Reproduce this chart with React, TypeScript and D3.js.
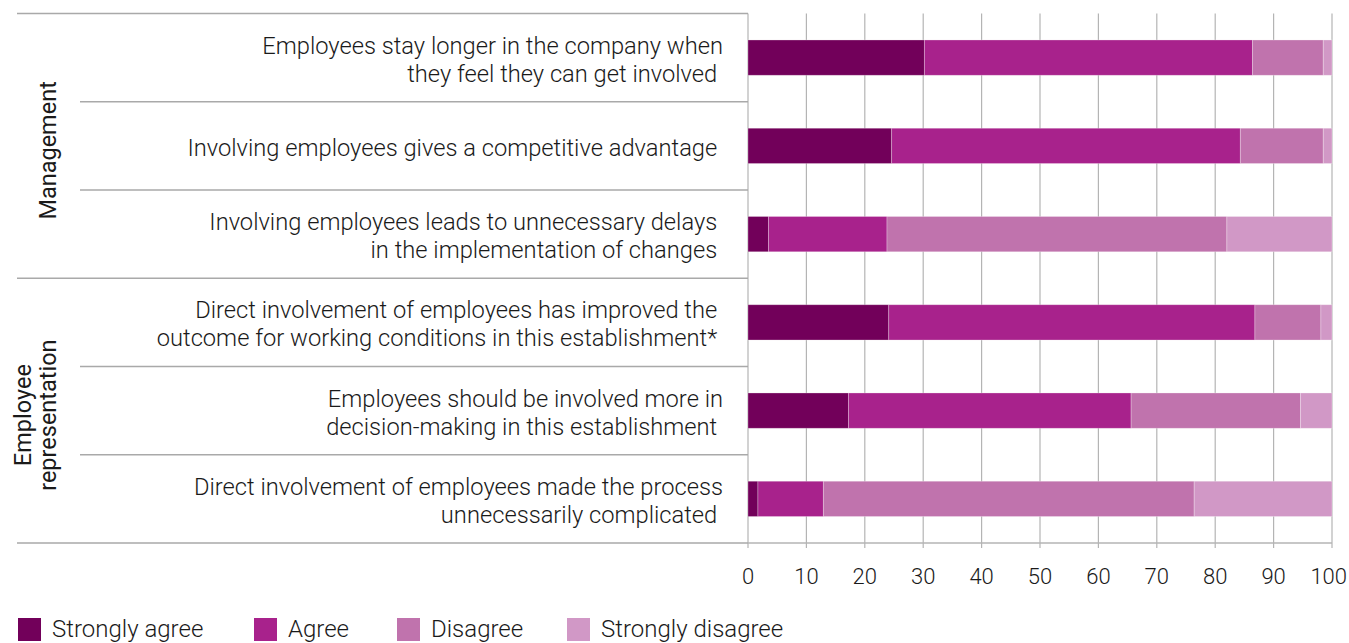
import React from "react";
import * as d3 from "d3";

const categories: string[][] = [
  ["Employees stay longer in the company when", "they feel they can get involved\u00A0"],
  ["Involving employees gives a competitive advantage\u00A0"],
  ["Involving employees leads to unnecessary delays\u00A0", "in the implementation of changes\u00A0"],
  ["Direct involvement of employees has improved the\u00A0", "outcome for working conditions in this establishment*\u00A0"],
  ["Employees should be involved more in", "decision-making in this establishment\u00A0"],
  ["Direct involvement of employees made the process", "unnecessarily complicated\u00A0"],
];
const groupNames: string[][] = [["Management"], ["Employee", "representation"]];
const groupSizes: number[] = [3, 3];

const seriesNames = ["Strongly agree", "Agree", "Disagree", "Strongly disagree"];
const stronglyAgree = [30.2, 24.6, 3.5, 24.1, 17.2, 1.7];
const agree = [56.2, 59.7, 20.3, 62.7, 48.4, 11.2];
const disagree = [12.1, 14.2, 58.2, 11.3, 29.0, 63.5];
const stronglyDisagree = [1.5, 1.5, 18.0, 1.9, 5.4, 23.6];
const colors = ["#72005a", "#a8228c", "#c073ad", "#d198c6"];
const xTicks = [0, 10, 20, 30, 40, 50, 60, 70, 80, 90, 100];

const FONT = "Roboto, 'Liberation Sans', sans-serif";

export default function App() {
  const W = 1349, H = 643;
  const x0 = 748, x1 = 1332, yTop = 13.5, yBot = 543;
  const x = d3.scaleLinear().domain([0, 100]).range([x0, x1]);
  const ids = categories.map((_, i) => String(i));
  const y = d3.scaleBand().domain(ids).range([yTop, yBot]).paddingInner(0.6).paddingOuter(0.3);
  const step = y.step();
  const rows = categories.map((_, i) => ({
    id: String(i),
    sa: stronglyAgree[i], a: agree[i], d: disagree[i], sd: stronglyDisagree[i],
  }));
  const keys = ["sa", "a", "d", "sd"];
  const stacked = d3.stack<any>().keys(keys)(rows);

  const rowTop = (i: number) => yTop + i * step;
  const grid = "#b4b4b4";
  const lineC = "#a9a9a9";

  let acc = 0;
  const groupBounds = groupSizes.map((s) => {
    const g = { start: acc, end: acc + s };
    acc += s;
    return g;
  });

  const legendX = [18, 254, 397, 567];
  const tickFont = 22;

  return (
    <svg width={W} height={H} style={{ position: "absolute", left: 0, top: 0 }}>
      <rect width={W} height={H} fill="#fff" />
      {/* grid */}
      {xTicks.map((t) => (
        <line key={"g" + t} x1={x(t)} x2={x(t)} y1={yTop} y2={yBot + 5} stroke={grid} strokeWidth={1.2} />
      ))}
      {/* x axis line */}
      <line x1={x0} x2={x1} y1={yBot} y2={yBot} stroke={grid} strokeWidth={1.5} />
      {/* category separators */}
      {d3.range(categories.length + 1).map((i) => {
        const isGroup = groupBounds.some((g) => g.start === i || g.end === i);
        return (
          <line key={"s" + i} x1={isGroup ? 17 : 80} x2={x0} y1={rowTop(i)} y2={rowTop(i)} stroke={lineC} strokeWidth={1.5} />
        );
      })}
      {/* bars */}
      {stacked.map((s, si) => (
        <g key={"ser" + si} fill={colors[si]}>
          {s.map((d, i) => (
            <rect key={i} x={x(d[0])} width={x(d[1]) - x(d[0])} y={y(String(i))} height={y.bandwidth()}
              stroke="rgba(255,255,255,0.35)" strokeWidth={0.8} />
          ))}
        </g>
      ))}
      {/* category labels */}
      {categories.map((lines, i) => {
        const cy = (y(String(i)) as number) + y.bandwidth() / 2;
        return (
          <text key={"c" + i} textAnchor="end" fontFamily={FONT} fontWeight={300} fontSize={23.7} fill="#1a1a1a">
            {lines.map((l, j) => (
              <tspan key={j} x={723} y={cy + 10 + (j - (lines.length - 1) / 2) * 28}>{l}</tspan>
            ))}
          </text>
        );
      })}
      {/* group labels */}
      {groupBounds.map((g, gi) => {
        const cy = (rowTop(g.start) + rowTop(g.end)) / 2 + 4.5;
        const lines = groupNames[gi];
        return (
          <text key={"gl" + gi} transform={`translate(55.5,${cy}) rotate(-90)`} textAnchor="middle"
            fontFamily={FONT} fontWeight={400} fontSize={23.5} fill="#1a1a1a">
            {lines.map((l, j) => (
              <tspan key={j} x={0} y={(j - (lines.length - 1)) * 25}>{l}</tspan>
            ))}
          </text>
        );
      })}
      {/* x tick labels */}
      {xTicks.map((t) => {
        const half = (String(t).length * 0.562 * tickFont) / 2;
        const over = x(t) + half > W - 2;
        return (
          <text key={"t" + t} x={over ? W - 2 : x(t)} y={584} textAnchor={over ? "end" : "middle"}
            fontFamily={FONT} fontWeight={300} fontSize={tickFont} fill="#1a1a1a">{t}</text>
        );
      })}
      {/* legend */}
      {seriesNames.map((n, i) => {
        const lx = legendX[i];
        return (
          <g key={"l" + i}>
            <rect x={lx} y={618} width={23} height={23} fill={colors[i]} />
            <text x={lx + 34} y={637} fontFamily={FONT} fontWeight={300} fontSize={24} fill="#1a1a1a">{n}</text>
          </g>
        );
      })}
    </svg>
  );
}
